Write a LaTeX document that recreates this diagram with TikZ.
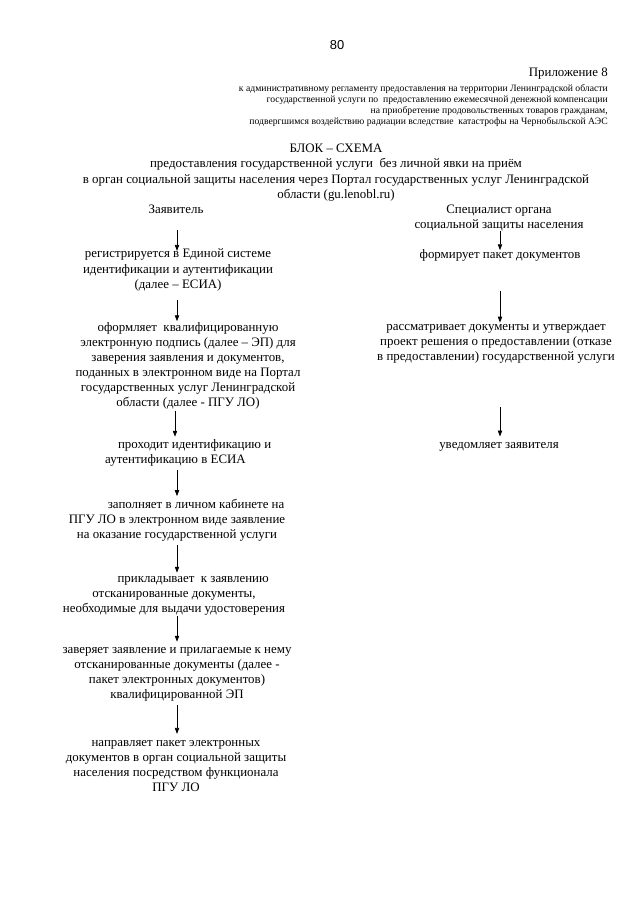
\documentclass[tikz,border=0pt]{standalone}
\usepackage{fontspec}
\setmainfont{Liberation Serif}
\newfontfamily\arialfont{Liberation Sans}
\usetikzlibrary{arrows.meta}
\tikzset{
  txt/.style={inner sep=0pt, align=center, font=\fontsize{12}{14}\selectfont},
  small/.style={inner sep=0pt, align=right, font=\fontsize{9}{10.3}\selectfont},
  arr/.style={line width=0.7pt, -{Triangle[length=5.5pt,width=4pt]}},
}
\newcommand{\ind}{\hspace*{1.25cm}}
\begin{document}
\begin{tikzpicture}[x=0.93pt,y=-0.93pt]
\fill[white] (0,0) rectangle (640,905);
\useasboundingbox (0,0) rectangle (640,905);
% header
\node[inner sep=0pt, font=\arialfont\fontsize{12}{14}\selectfont] (pg) at (337,45) {80};
\node[txt, anchor=east] (pril) at (608,74) {Приложение 8};
\node[small, anchor=east] (hdr) at (608,105.5) {к административному регламенту предоставления на территории Ленинградской области\\государственной услуги по\ \ предоставлению ежемесячной денежной компенсации\\на приобретение продовольственных товаров гражданам,\\подвергшимся воздействию радиации вследствие\ \ катастрофы на Чернобыльской АЭС};
\node[txt, font=\fontsize{12}{14.3}\selectfont] (title) at (336,172.5) {БЛОК – СХЕМА\\предоставления государственной услуги\ \ без личной явки на приём\\в орган социальной защиты населения через Портал государственных услуг Ленинградской\\области (gu.lenobl.ru)};
% columns
\coordinate (lx) at (177,0);
\coordinate (lx2) at (175,0);
\coordinate (rx) at (500,0);
\node[txt] (zayav) at (176,209.5) {Заявитель};
\node[txt] (spec) at (499,218.5) {Специалист органа\\социальной защиты населения};
% left column
\node[txt] (reg) at (178,270) {регистрируется в Единой системе\\идентификации и аутентификации\\(далее – ЕСИА)};
\node[txt] (oform) at (188,366) {оформляет\ \ квалифицированную\\электронную подпись (далее – ЭП) для\\заверения заявления и документов,\\поданных в электронном виде на Портал\\государственных услуг Ленинградской\\области (далее - ПГУ ЛО)};
\node[txt] (prohod) at (175.5,453) {\ind проходит идентификацию и\\аутентификацию в ЕСИА};
\node[txt] (zapoln) at (177,520.5) {\ind заполняет в личном кабинете на\\ПГУ ЛО в электронном виде заявление\\на оказание государственной услуги};
\node[txt] (priklad) at (174,595.5) {\ind прикладывает\ \ к заявлению\\отсканированные документы,\\необходимые для выдачи удостоверения};
\node[txt] (zaver) at (177,674.5) {заверяет заявление и прилагаемые к нему\\отсканированные документы (далее -\\пакет электронных документов)\\квалифицированной ЭП};
\node[txt] (napr) at (176,766) {направляет пакет электронных\\документов в орган социальной защиты\\населения посредством функционала\\ПГУ ЛО};
% right column
\node[txt] (form) at (500,255) {формирует пакет документов};
\node[txt] (rassm) at (496,344) {рассматривает документы и утверждает\\проект решения о предоставлении (отказе\\в предоставлении) государственной услуги};
\node[txt] (uved) at (499,446.5) {уведомляет заявителя};
% arrows
\draw[arr, shorten <=14.6pt, shorten >=-1.8pt] (zayav.south -| lx) -- (reg.north -| lx);
\draw[arr, shorten <=8.5pt, shorten >=1pt] (reg.south -| lx) -- (oform.north -| lx);
\draw[arr, shorten <=1pt, shorten >=2.5pt] (oform.south -| lx2) -- (prohod.north -| lx2);
\draw[arr, shorten <=3.4pt, shorten >=2.9pt] (prohod.south -| lx) -- (zapoln.north -| lx);
\draw[arr, shorten <=3pt, shorten >=2.9pt] (zapoln.south -| lx) -- (priklad.north -| lx);
\draw[arr, shorten <=1.2pt, shorten >=5.2pt] (priklad.south -| lx) -- (zaver.north -| lx);
\draw[arr, shorten <=3.4pt, shorten >=5.8pt] (zaver.south -| lx) -- (napr.north -| lx);
\draw[arr, shorten <=-1.2pt, shorten >=-1.2pt] (spec.south -| rx) -- (form.north -| rx);
\draw[arr, shorten <=27.7pt, shorten >=1.6pt] (form.south -| rx) -- (rassm.north -| rx);
\draw[arr, shorten <=40.6pt, shorten >=5pt] (rassm.south -| rx) -- (uved.north -| rx);
\end{tikzpicture}
\end{document}
